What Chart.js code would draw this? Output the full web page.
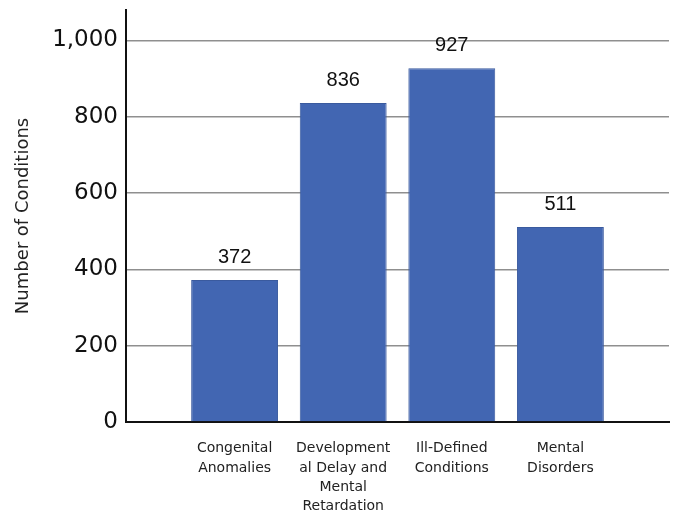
<!DOCTYPE html>
<html>
<head>
<meta charset="utf-8">
<script src="https://cdn.jsdelivr.net/npm/chart.js@4"></script>
<style>
  html, body { margin: 0; padding: 0; background: #fff; }
  #wrap { width: 677px; height: 514px; }
</style>
</head>
<body>
<div id="wrap"><canvas id="barChart" width="677" height="514"></canvas></div>
<script>
// empty slots at both ends keep the bars centred on the grid like the original
const categories = [
  '',
  ['Congenital', 'Anomalies'],
  ['Development', 'al Delay and', 'Mental', 'Retardation'],
  ['Ill-Defined', 'Conditions'],
  ['Mental', 'Disorders'],
  ''
];
const conditionCounts = [null, 372, 836, 927, 511, null];
const yTicks = [0, 200, 400, 600, 800, 1000];

// draws the number above each bar
const valueLabels = {
  id: 'valueLabels',
  afterDatasetsDraw(chart) {
    const ctx = chart.ctx;
    const meta = chart.getDatasetMeta(0);
    ctx.save();
    ctx.font = '20px "Liberation Sans", Arial, sans-serif';
    ctx.fillStyle = '#111';
    ctx.textAlign = 'center';
    ctx.textBaseline = 'alphabetic';
    meta.data.forEach((bar, i) => {
      const v = conditionCounts[i];
      if (v === null) return;
      ctx.fillText(String(v), bar.x, bar.y - 17);
    });
    ctx.restore();
  }
};

const ctx = document.getElementById('barChart').getContext('2d');
const myChart = new Chart(ctx, {
  type: 'bar',
  data: {
    labels: categories,
    datasets: [{
      label: 'Number of Conditions',
      data: conditionCounts,
      backgroundColor: '#4266b2',
      borderColor: '#3a5a9e',
      borderWidth: 1,
      barPercentage: 0.8,
      categoryPercentage: 1
    }]
  },
  options: {
    responsive: false,
    animation: false,
    layout: { padding: { top: 10, right: 8, bottom: 0, left: 13 } },
    plugins: {
      legend: { display: false },
      tooltip: { enabled: false }
    },
    scales: {
      x: {
        offset: false,
        grid: { display: false, drawTicks: false },
        border: { color: '#111', width: 2 },
        ticks: {
          color: '#222',
          padding: 17,
          maxRotation: 0,
          autoSkip: false,
          font: { family: '"DejaVu Sans", Verdana, sans-serif', size: 14, lineHeight: 1.38 }
        },
        afterFit(scale) {
          scale.height = 92;
          scale.paddingLeft = 0;
          scale.paddingRight = 0;
        }
      },
      y: {
        min: 0,
        max: 1080,
        grid: { color: '#8f8f8f', lineWidth: 1.5, drawTicks: false },
        border: { color: '#111', width: 2 },
        afterBuildTicks(scale) {
          scale.ticks = yTicks.map(v => ({ value: v }));
        },
        ticks: {
          color: '#111',
          padding: 8,
          font: { family: '"DejaVu Sans", Verdana, sans-serif', size: 23 },
          callback: v => v.toLocaleString('en-US')
        },
        title: {
          display: true,
          text: 'Number of Conditions',
          color: '#222',
          padding: 0,
          font: { family: '"DejaVu Sans", Verdana, sans-serif', size: 18 }
        },
        afterFit(scale) {
          scale.width = 113;
          scale.paddingTop = 0;
          scale.paddingBottom = 0;
        }
      }
    }
  },
  plugins: [valueLabels]
});
</script>
</body>
</html>
